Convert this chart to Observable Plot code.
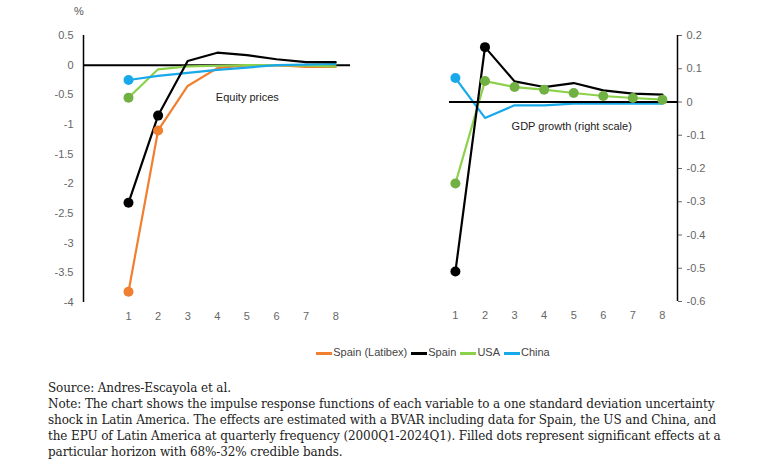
<!DOCTYPE html>
<html><head><meta charset="utf-8">
<script src="https://cdn.jsdelivr.net/npm/d3@7"></script>
<script src="https://cdn.jsdelivr.net/npm/@observablehq/plot@0.6"></script>
<style>
body{margin:0;background:#fff;font-family:Arial,"Liberation Sans",sans-serif;}
#wrap{position:relative;width:780px;height:475px;}
.p{position:absolute;top:0;}
#legend{position:absolute;top:346px;left:0;width:866px;text-align:center;font-size:11px;color:#444;}
#legend span{display:inline-block;margin:0 2px;}
#legend i{display:inline-block;width:16px;height:3px;vertical-align:middle;margin-right:1px;}
#note{position:absolute;top:380px;left:48px;width:675px;font-family:"DejaVu Serif",serif;font-size:12px;line-height:16px;color:#222;letter-spacing:-0.1px;}
#pct{position:absolute;left:74px;top:5px;font-size:11px;color:#555;}
</style></head><body>
<div id="wrap">
<div id="pct">%</div>
<div class="p" id="left"></div>
<div class="p" id="right" style="left:366px"></div>
<div id="legend"></div>
<div id="note">Source: Andres-Escayola et al.<br>Note: The chart shows the impulse response functions of each variable to a one standard deviation uncertainty shock in Latin America. The effects are estimated with a BVAR including data for Spain, the US and China, and the EPU of Latin America at quarterly frequency (2000Q1-2024Q1). Filled dots represent significant effects at a particular horizon with 68%-32% credible bands.</div>
</div>
<script>
const horizon=[1,2,3,4,5,6,7,8];
const series=["Spain (Latibex)","Spain","USA","China"];
const colors=["#f07f2f","#000000","#8cd14a","#18a9ea"];
const dotColors=["#f07f2f","#000000","#71b043","#18a9ea"];
// Equity prices (%)
const eqLatibex=[-3.82,-1.1,-0.35,-0.05,0,0,-0.03,-0.03];
const eqSpain=[-2.32,-0.85,0.07,0.21,0.17,0.1,0.05,0.05];
const eqUSA=[-0.55,-0.07,-0.02,-0.01,0,0,-0.01,-0.02];
const eqChina=[-0.25,-0.18,-0.13,-0.08,-0.04,0,0.01,0.02];
const eqSig={"Spain (Latibex)":[1,2],"Spain":[1,2],"USA":[1],"China":[1]};
// GDP growth (right scale)
const gdpSpain=[-0.51,0.165,0.062,0.045,0.057,0.035,0.025,0.022];
const gdpUSA=[-0.245,0.063,0.045,0.037,0.027,0.018,0.012,0.007];
const gdpChina=[0.072,-0.048,-0.01,-0.01,-0.005,-0.005,-0.005,-0.005];
const gdpSig={"Spain":[1,2],"USA":[1,2,3,4,5,6,7,8],"China":[1]};

const toRows=(obj)=>Object.entries(obj).flatMap(([s,v])=>v.map((y,i)=>({s,x:horizon[i],y})));
const eqRows=toRows({"Spain (Latibex)":eqLatibex,"Spain":eqSpain,"USA":eqUSA,"China":eqChina});
const gdpRows=toRows({"Spain":gdpSpain,"USA":gdpUSA,"China":gdpChina});
const sig=(rows,m)=>rows.filter(d=>m[d.s]&&m[d.s].includes(d.x));
const order=["Spain (Latibex)","USA","China","Spain"];

const left=Plot.plot({
  width:366,height:332,marginLeft:83,marginRight:16,marginTop:35,marginBottom:30,
  style:{fontFamily:"Arial, Liberation Sans, sans-serif",fontSize:"11px",color:"#666"},
  x:{domain:[-0.52,8.5],ticks:horizon,tickFormat:d=>d,tickSize:0,tickPadding:10,label:null},
  y:{domain:[-4,0.5],ticks:d3.range(-4,0.51,0.5),tickFormat:d=>String(Math.round(d*10)/10),tickSize:0,tickPadding:10,label:null},
  marks:[
    Plot.ruleX([-0.52],{stroke:"#000",strokeWidth:1.5}),
    Plot.ruleY([0],{stroke:"#000",strokeWidth:2}),
    ...order.map(s=>Plot.line(eqRows.filter(d=>d.s===s),{x:"x",y:"y",stroke:colors[series.indexOf(s)],strokeWidth:2.2})),
    ...series.map((s,i)=>Plot.dot(sig(eqRows,eqSig).filter(d=>d.s===s),{x:"x",y:"y",r:5,fill:dotColors[i]})),
    Plot.text(["Equity prices"],{x:3.95,y:-0.55,text:d=>d,textAnchor:"start",fill:"#222",fontSize:11})
  ]
});
document.getElementById("left").appendChild(left);

const right=Plot.plot({
  width:414,height:332,marginLeft:83,marginRight:103,marginTop:35,marginBottom:31,
  style:{fontFamily:"Arial, Liberation Sans, sans-serif",fontSize:"11px",color:"#666"},
  x:{domain:[0.8,8.51],ticks:horizon,tickFormat:d=>d,tickSize:0,tickPadding:10,label:null},
  y:{domain:[-0.6,0.2],ticks:d3.range(-0.6,0.21,0.1),tickFormat:d=>String(Math.round(d*10)/10),axis:"right",tickSize:4,tickPadding:5,label:null},
  marks:[
    Plot.ruleX([8.51],{stroke:"#000",strokeWidth:1.5}),
    ...["USA","China","Spain"].map(s=>Plot.line(gdpRows.filter(d=>d.s===s),{x:"x",y:"y",stroke:colors[series.indexOf(s)],strokeWidth:2.2})),
    Plot.ruleY([0],{stroke:"#000",strokeWidth:2}),
    ...series.map((s,i)=>Plot.dot(sig(gdpRows,gdpSig).filter(d=>d.s===s),{x:"x",y:"y",r:5,fill:dotColors[i]})),
    Plot.text(["GDP growth (right scale)"],{x:2.9,y:-0.075,text:d=>d,textAnchor:"start",fill:"#222",fontSize:11})
  ]
});
document.getElementById("right").appendChild(right);

document.getElementById("legend").innerHTML=series.map((s,i)=>`<span><i style="background:${colors[i]}"></i>${s}</span>`).join("");
</script>
</body></html>
